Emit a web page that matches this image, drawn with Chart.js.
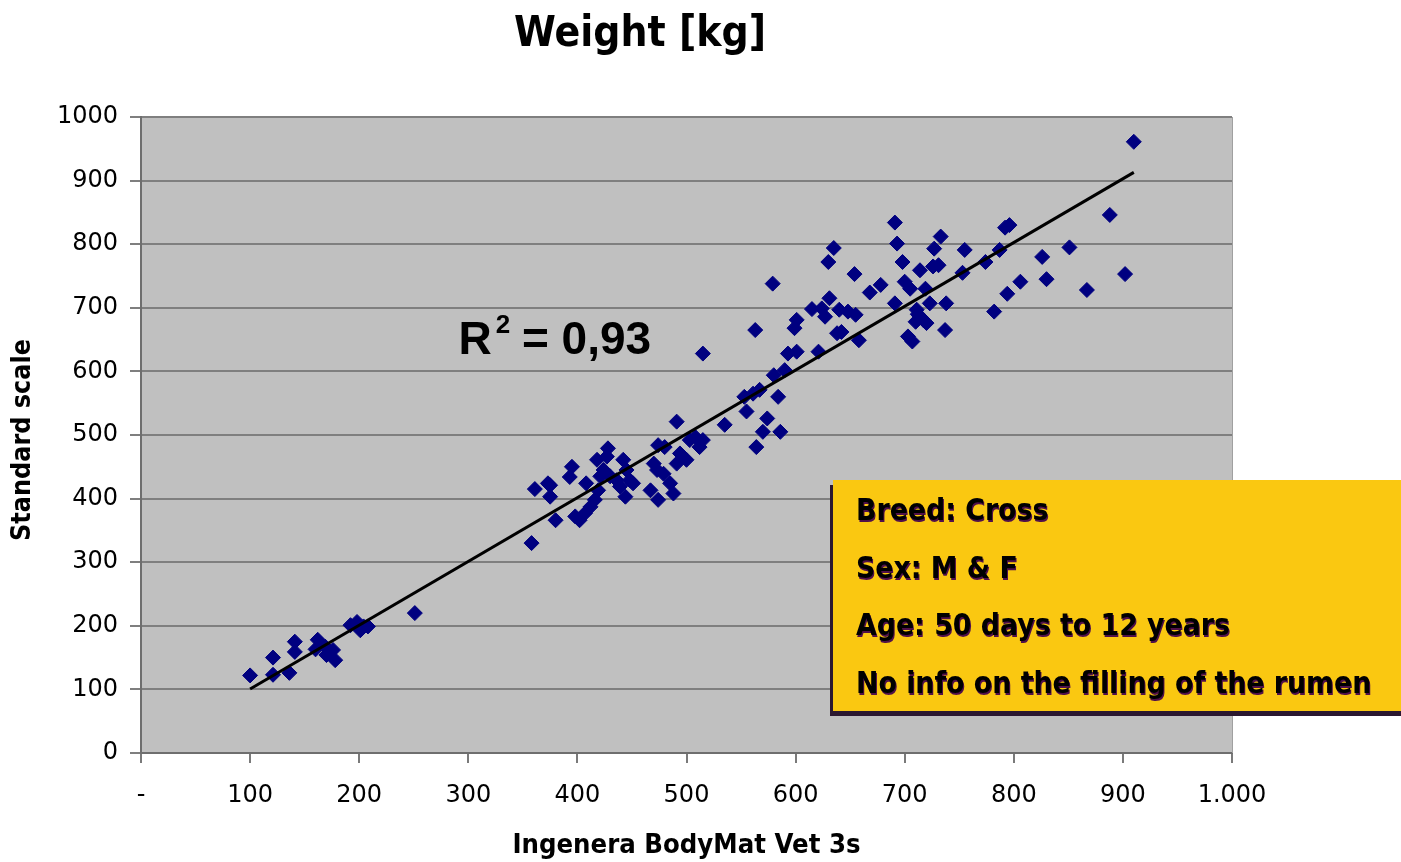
<!DOCTYPE html>
<html>
<head>
<meta charset="utf-8">
<title>Weight [kg]</title>
<script src="https://cdn.jsdelivr.net/npm/chart.js@4.4.0/dist/chart.umd.min.js"></script>
<style>
  html, body { margin: 0; padding: 0; background: #ffffff; }
  #wrap { position: relative; width: 1401px; height: 862px; }
</style>
</head>
<body>
<div id="wrap"><canvas id="weightChart" width="1401" height="862"></canvas></div>
<script>
// ====== DATA ======
const chartTitle = "Weight [kg]";
const xAxisTitle = "Ingenera BodyMat Vet 3s";
const yAxisTitle = "Standard scale";
const rSquaredText = "0,93";

// BodyMat reading (x) and scale reading (y)
const bodyMatValues = [
  100, 121, 121, 136, 141, 141, 162, 160, 169, 173, 170, 178, 176, 192, 198, 201, 208, 204, 251,
  358, 361, 373, 375, 375, 380, 395, 393, 398, 402, 408, 407, 412, 416, 419, 418, 428, 427, 424,
  421, 430, 436, 439, 442, 445, 444, 448, 451, 467, 474, 470, 473, 474, 480, 479, 485, 488, 491,
  494, 500, 503, 508, 512, 515, 491, 535,
  515, 563, 553, 555, 561, 567, 574, 570, 564, 586, 584, 580, 590, 593, 601, 621, 638, 599, 601,
  579, 615, 624, 627, 631, 640, 648, 655, 642, 658, 630, 635, 654, 668, 678, 691, 691, 693, 698,
  700, 705, 719, 714, 726, 731, 727, 733, 755, 753, 723, 711, 714, 710, 717, 703, 707, 737, 738,
  712, 720,
  910, 888, 902, 867, 851, 826, 830, 806, 794, 782, 792, 796, 787, 774
];
const scaleValues = [
  122, 150, 123, 126, 175, 159, 178, 163, 167, 159, 154, 146, 162, 201, 206, 193, 199, 199, 220,
  330, 415, 424, 403, 421, 366, 450, 434, 372, 366, 424, 377, 387, 398, 413, 461, 479, 466, 445,
  435, 435, 429, 419, 461, 445, 403, 429, 424, 413, 398, 455, 445, 484, 481, 439, 424, 408, 455,
  471, 461, 492, 497, 481, 492, 521, 516,
  628, 665, 560, 537, 565, 571, 526, 505, 481, 505, 560, 594, 602, 628, 631, 631, 660, 668, 681,
  738, 698, 699, 686, 715, 697, 694, 689, 662, 649, 772, 794, 753, 724, 736, 707, 834, 801, 772,
  741, 730, 730, 759, 765, 767, 793, 812, 791, 755, 707, 697, 686, 678, 681, 655, 647, 665, 707,
  690, 676,
  961, 846, 753, 728, 795, 780, 745, 741, 722, 694, 826, 830, 791, 772
];

// linear trend line end points
const trendX = [100, 910];
const trendY = [100.6, 913];

const xTickLabels = ["-", "100", "200", "300", "400", "500", "600", "700", "800", "900", "1.000"];
const yTickLabels = ["0", "100", "200", "300", "400", "500", "600", "700", "800", "900", "1000"];

const infoLines = [
  "Breed: Cross",
  "Sex: M & F",
  "Age: 50 days to 12 years",
  "No info on the filling of the rumen"
];

// ====== HELPERS ======
const points = bodyMatValues.map((x, i) => ({ x: x, y: scaleValues[i] }));
const trendPoints = trendX.map((x, i) => ({ x: x, y: trendY[i] }));

// text in the picture is slightly stretched vertically
function stretchText(ctx, text, x, y, font, sy, align) {
  ctx.save();
  ctx.font = font;
  ctx.textAlign = align || "left";
  ctx.textBaseline = "middle";
  ctx.translate(x, y);
  ctx.scale(1, sy);
  ctx.fillText(text, 0, 0);
  ctx.restore();
}

// ====== PLUGINS ======
const plotBackground = {
  id: "plotBackground",
  beforeDraw(chart) {
    const { ctx, chartArea } = chart;
    ctx.save();
    ctx.fillStyle = "#ffffff";
    ctx.fillRect(0, 0, chart.width, chart.height);
    ctx.fillStyle = "#c0c0c0";
    ctx.fillRect(chartArea.left, chartArea.top, chartArea.right - chartArea.left, chartArea.bottom - chartArea.top);
    ctx.restore();
  }
};

const annotations = {
  id: "annotations",
  afterDraw(chart) {
    const { ctx, chartArea } = chart;
    const xs = chart.scales.x;
    const ys = chart.scales.y;

    // right edge of plot
    ctx.save();
    ctx.strokeStyle = "#a0a0a0";
    ctx.lineWidth = 1;
    ctx.beginPath();
    ctx.moveTo(chartArea.right + 0.5, chartArea.top);
    ctx.lineTo(chartArea.right + 0.5, chartArea.bottom);
    ctx.stroke();
    ctx.restore();

    ctx.fillStyle = "#000000";

    // title
    stretchText(ctx, chartTitle, 640, 35, "bold 38px 'DejaVu Sans'", 1.12, "center");

    // axis titles
    stretchText(ctx, xAxisTitle, (chartArea.left + chartArea.right) / 2, 846, "bold 24.5px 'DejaVu Sans'", 1.1, "center");
    ctx.save();
    ctx.translate(23, 440);
    ctx.rotate(-Math.PI / 2);
    stretchText(ctx, yAxisTitle, 0, 0, "bold 24px 'DejaVu Sans'", 1.1, "center");
    ctx.restore();

    // R squared label
    const rx = xs.getPixelForValue(291);
    const ry = ys.getPixelForValue(628);
    ctx.save();
    ctx.font = "bold 46px 'Liberation Sans'";
    ctx.textBaseline = "alphabetic";
    ctx.fillStyle = "#000000";
    ctx.fillText("R", rx, ry);
    let w = ctx.measureText("R").width;
    ctx.font = "bold 26px 'Liberation Sans'";
    ctx.fillText("2", rx + w + 4, ry - 21);
    w += ctx.measureText("2").width + 3;
    ctx.font = "bold 46px 'Liberation Sans'";
    ctx.fillText(" = " + rSquaredText, rx + w, ry);
    ctx.restore();

    // info box
    const bx = 833, by = 480, bw = 600, bh = 231;
    ctx.save();
    ctx.fillStyle = "#2b1830";
    ctx.fillRect(bx - 3, by + 5, bw, bh);
    ctx.fillStyle = "#fac811";
    ctx.fillRect(bx, by, bw, bh);
    ctx.shadowColor = "#50104a";
    ctx.shadowOffsetX = 1;
    ctx.shadowOffsetY = 2;
    ctx.fillStyle = "#000000";
    infoLines.forEach((line, i) => {
      stretchText(ctx, line, 856, 512 + i * 57.7, "bold 26.8px 'DejaVu Sans'", 1.15, "left");
    });
    ctx.restore();
  }
};

// ====== CHART ======
const ctx = document.getElementById("weightChart");

new Chart(ctx, {
  type: "scatter",
  data: {
    datasets: [
      {
        type: "line",
        data: trendPoints,
        borderColor: "#000000",
        borderWidth: 3,
        pointRadius: 0,
        fill: false
      },
      {
        data: points,
        pointStyle: "rectRot",
        pointRadius: 7.5,
        backgroundColor: "#000080",
        borderColor: "#000080",
        borderWidth: 1
      }
    ]
  },
  options: {
    responsive: false,
    animation: false,
    devicePixelRatio: 1,
    layout: { padding: { top: 117, right: 169, left: 0, bottom: 0 } },
    plugins: {
      legend: { display: false },
      tooltip: { enabled: false },
      title: { display: false }
    },
    scales: {
      x: {
        type: "linear",
        min: 0,
        max: 1000,
        afterFit: (scale) => { scale.height = 109; },
        ticks: {
          stepSize: 100,
          padding: 18,
          color: "#000000",
          font: { family: "'DejaVu Sans'", size: 24 },
          callback: (v) => xTickLabels[Math.round(v / 100)]
        },
        grid: { drawOnChartArea: false, tickLength: 10, color: "#7a7a7a", lineWidth: 2 },
        border: { color: "#6e6e6e", width: 2 }
      },
      y: {
        min: 0,
        max: 1000,
        afterFit: (scale) => { scale.width = 141; },
        ticks: {
          stepSize: 100,
          padding: 12,
          color: "#000000",
          font: { family: "'DejaVu Sans'", size: 24 },
          callback: (v) => yTickLabels[Math.round(v / 100)]
        },
        grid: { tickLength: 11, color: "#7f7f7f", lineWidth: 2 },
        border: { color: "#6e6e6e", width: 2 }
      }
    }
  },
  plugins: [plotBackground, annotations]
});
</script>
</body>
</html>
